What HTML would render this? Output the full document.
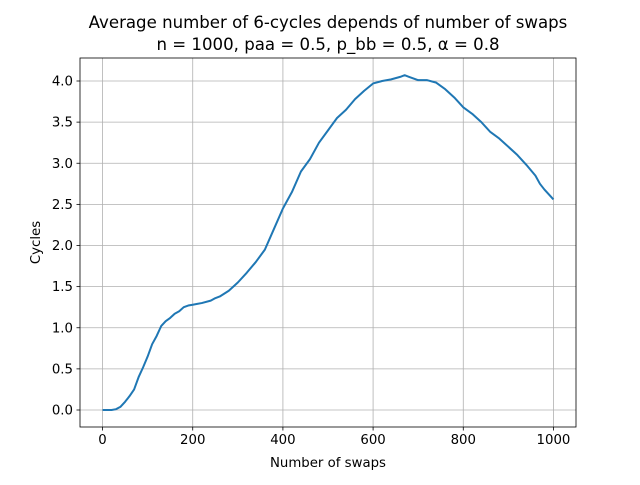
<!DOCTYPE html>
<html><head><meta charset="utf-8"><style>
body{margin:0;background:#fff}
svg{font-family:"DejaVu Sans","Liberation Sans",sans-serif}
</style></head><body>
<svg id="c" width="640" height="480"></svg>
<script>
const swaps=[0,20,30,40,50,60,70,80,90,100,110,120,130,140,150,160,170,180,190,200,210,220,240,250,260,280,300,320,340,360,380,400,420,440,460,480,500,520,540,560,580,600,620,640,660,670,680,700,720,740,760,780,800,820,840,860,880,900,920,940,960,970,980,1000];
const cycles=[0,0,0.01,0.04,0.1,0.17,0.25,0.4,0.52,0.65,0.8,0.9,1.02,1.08,1.12,1.17,1.2,1.25,1.27,1.28,1.29,1.3,1.33,1.36,1.38,1.45,1.55,1.67,1.8,1.95,2.2,2.45,2.65,2.9,3.05,3.25,3.4,3.55,3.65,3.78,3.88,3.97,4.0,4.02,4.05,4.07,4.05,4.01,4.01,3.98,3.9,3.8,3.68,3.6,3.5,3.38,3.3,3.2,3.1,2.98,2.85,2.75,2.68,2.56];
const xTicks=[0,200,400,600,800,1000];
const yTicks=[0,0.5,1,1.5,2,2.5,3,3.5,4];
const L=80,R=576,T=58,B=427;
const sx=v=>L+(v+50)/1100*(R-L);
const sy=v=>410-v*82.25;
const svg=document.getElementById('c');
const NS='http://www.w3.org/2000/svg';
function mk(t,a,txt){const e=document.createElementNS(NS,t);for(const k in a)e.setAttribute(k,a[k]);if(txt!==undefined)e.textContent=txt;svg.appendChild(e);return e;}
xTicks.forEach(v=>{const x=sx(v);
let g=mk('line',{x1:x,x2:x,y1:T,y2:B,stroke:'#b0b0b0','stroke-width':0.8});


mk('line',{x1:x,x2:x,y1:B,y2:B+3.5,stroke:'#000','stroke-width':0.8});
let t=mk('text',{x:x,y:B+17,'text-anchor':'middle','font-size':13.3},String(v));

});
yTicks.forEach(v=>{const y=sy(v);
let g=mk('line',{x1:L,x2:R,y1:y,y2:y,stroke:'#b0b0b0','stroke-width':0.8});


mk('line',{x1:L-3.5,x2:L,y1:y,y2:y,stroke:'#000','stroke-width':0.8});
let t=mk('text',{x:L-7,y:y+4.5,'text-anchor':'end','font-size':13.3},v.toFixed(1));

});
const p=mk('polyline',{points:swaps.map((s,i)=>sx(s)+','+sy(cycles[i])).join(' '),fill:'none',stroke:'#1f77b4','stroke-width':2,'stroke-linejoin':'round'});


const f=mk('rect',{x:L,y:T,width:R-L,height:B-T,fill:'none',stroke:'#000','stroke-width':0.8});


let a=mk('text',{x:(L+R)/2,y:467,'text-anchor':'middle','font-size':13.3},'Number of swaps');


a=mk('text',{x:40,y:(T+B)/2,'text-anchor':'middle','font-size':13.3,transform:'rotate(-90 40 '+(T+B)/2+')'},'Cycles');


a=mk('text',{x:(L+R)/2,y:28,'text-anchor':'middle','font-size':16.6},'Average number of 6-cycles depends of number of swaps');


a=mk('text',{x:(L+R)/2,y:50,'text-anchor':'middle','font-size':16.6},'n = 1000, paa = 0.5, p_bb = 0.5, α = 0.8');


</script>
</body></html>
